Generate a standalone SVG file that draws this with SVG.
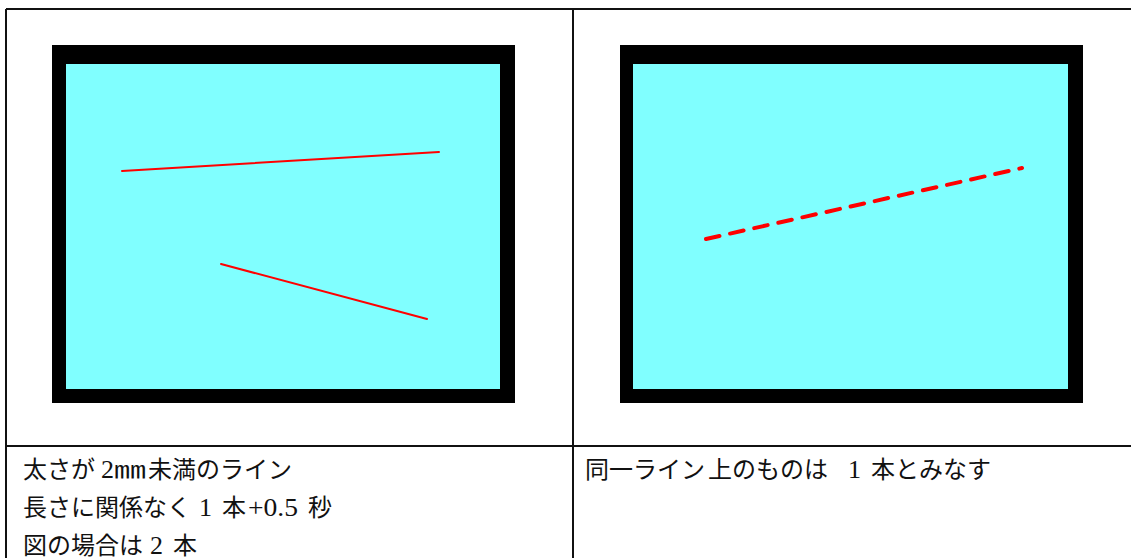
<svg xmlns="http://www.w3.org/2000/svg" width="1131" height="558" viewBox="0 0 1131 558">
<style>
.grid{stroke:#111;stroke-width:2;fill:none}
.frame{fill:#000}
.screen{fill:#80FFFF}
.red{stroke:#FF0000;stroke-width:2;fill:none;stroke-linecap:round}
.dash{stroke:#FF0000;stroke-width:4;fill:none;stroke-dasharray:13.8 10.9;stroke-linecap:round}
.t{font-family:"Liberation Serif","Noto Sans CJK JP",serif;font-size:24px;fill:#111}
.n{font-size:26px}
</style>
<rect width="1131" height="558" fill="#fff"/>
<g id="table" class="grid">
<line x1="6" y1="9" x2="1131" y2="9"/>
<line x1="6" y1="9" x2="6" y2="558"/>
<line x1="573" y1="9" x2="573" y2="558"/>
<line x1="6" y1="446" x2="1131" y2="446"/>
</g>
<g id="panel-left">
<rect class="frame" x="52" y="45" width="463" height="358"/>
<rect class="screen" x="66" y="64" width="434" height="325"/>
</g>
<g id="panel-right">
<rect class="frame" x="620" y="45" width="463" height="358"/>
<rect class="screen" x="633" y="64" width="435" height="325"/>
</g>
<g id="connectors">
<line class="red" x1="122" y1="171" x2="439" y2="152"/>
<line class="red" x1="221" y1="264" x2="427" y2="319"/>
<line class="dash" x1="706" y1="239" x2="1022" y2="168"/>
</g>
<g id="text-left">
<text class="t" y="478"><tspan x="23">太さが</tspan><tspan class="n" x="101">2</tspan><tspan x="114" textLength="32" lengthAdjust="spacingAndGlyphs">㎜</tspan><tspan x="148">未満のライン</tspan></text>
<text class="t" y="516"><tspan x="23">長さに関係なく</tspan><tspan class="n" x="199">1</tspan><tspan x="222">本</tspan><tspan class="n" x="248" textLength="50" lengthAdjust="spacingAndGlyphs">+0.5</tspan><tspan x="308">秒</tspan></text>
<text class="t" y="554"><tspan x="23">図の場合は</tspan><tspan class="n" x="150">2</tspan><tspan x="173">本</tspan></text>
</g>
<g id="text-right">
<text class="t" y="478"><tspan x="585">同一ライン</tspan><tspan x="708">上のものは</tspan><tspan class="n" x="848">1</tspan><tspan x="871">本とみなす</tspan></text>
</g>
</svg>
